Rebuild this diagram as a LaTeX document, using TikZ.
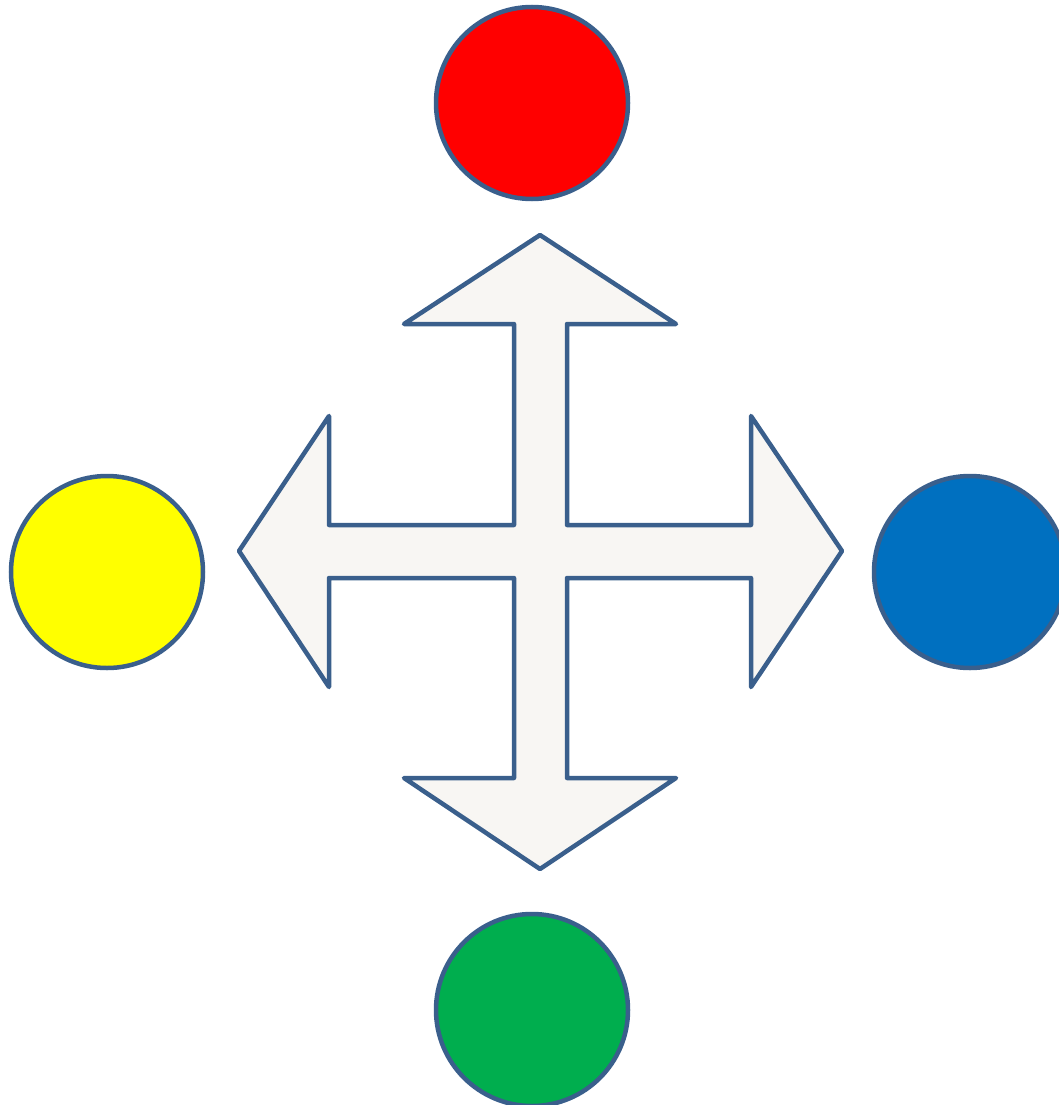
\documentclass[tikz,border=0pt]{standalone}
\begin{document}
\begin{tikzpicture}[x=1pt,y=-1pt,
  edge/.style={draw=strokeblue,line width=4.5pt,line join=round,line cap=round},
  ball/.style={circle,draw=strokeblue,line width=4.5pt,minimum size=192pt,inner sep=0pt}]
\definecolor{strokeblue}{HTML}{3A5F8C}
\definecolor{arrowfill}{HTML}{F8F6F3}
\definecolor{cred}{HTML}{FF0000}
\definecolor{cyellow}{HTML}{FFFF00}
\definecolor{cblue}{HTML}{0070C0}
\definecolor{cgreen}{HTML}{00AE4E}
\useasboundingbox (0,0) rectangle (1059,1105);
\clip (0,0) rectangle (1059,1105);
\node[ball,fill=cred] (red) at (532,103) {};
\node[ball,fill=cyellow] (yellow) at (107,572) {};
\node[ball,fill=cblue] (blue) at (970,572) {};
\node[ball,fill=cgreen] (green) at (532,1010) {};
\path[edge,fill=arrowfill]
  (540,235) -- (676,324) -- (567,324) -- (567,525) -- (751,525) -- (751,416)
  -- (842,551) -- (751,687) -- (751,578) -- (567,578) -- (567,778) -- (676,778)
  -- (540,869) -- (404,778) -- (514,778) -- (514,578) -- (329,578) -- (329,687)
  -- (239,551) -- (329,416) -- (329,525) -- (514,525) -- (514,324) -- (404,324)
  -- cycle;
\end{tikzpicture}
\end{document}
